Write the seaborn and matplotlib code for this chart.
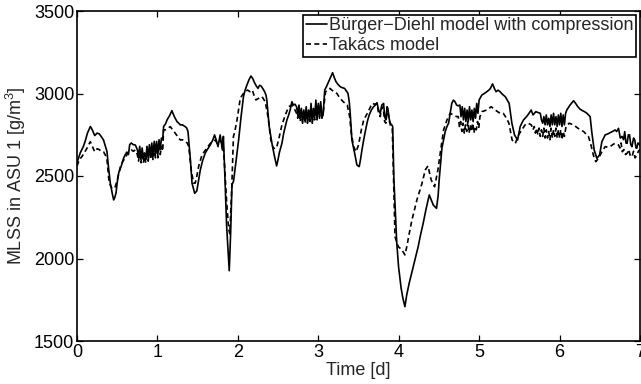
import matplotlib
matplotlib.use("Agg")
import matplotlib.pyplot as plt
import numpy as np
import pandas as pd
import seaborn as sns

# Simulated MLSS concentration in ASU 1, two settler models
bd_time = [
    0.00, 0.04, 0.08, 0.10, 0.13, 0.166, 0.19, 0.22, 0.25, 0.277, 0.30, 0.33, 0.36, 0.373, 0.39,
    0.414, 0.44, 0.456, 0.47, 0.485, 0.50, 0.518, 0.55, 0.58, 0.60, 0.62, 0.64, 0.655, 0.675, 0.70,
    0.725, 0.75, 0.765, 0.78, 0.795, 0.81, 0.825, 0.84, 0.855, 0.87, 0.885, 0.90, 0.915, 0.93, 0.945,
    0.96, 0.975, 0.99, 1.005, 1.02, 1.035, 1.05, 1.065, 1.077, 1.10, 1.12, 1.15, 1.18, 1.21, 1.243,
    1.265, 1.285, 1.31, 1.346, 1.365, 1.38, 1.395, 1.41, 1.43, 1.463, 1.49, 1.51, 1.533, 1.56, 1.595,
    1.62, 1.657, 1.69, 1.71, 1.73, 1.753, 1.78, 1.795, 1.81, 1.82, 1.84, 1.86, 1.893, 1.91, 1.927,
    1.947, 1.98, 2.01, 2.04, 2.07, 2.09, 2.113, 2.14, 2.163, 2.185, 2.208, 2.23, 2.25, 2.27, 2.29,
    2.31, 2.333, 2.35, 2.36, 2.375, 2.39, 2.424, 2.452, 2.482, 2.50, 2.515, 2.548, 2.57, 2.59, 2.61,
    2.632, 2.65, 2.672, 2.69, 2.71, 2.73, 2.745, 2.76, 2.775, 2.79, 2.805, 2.82, 2.835, 2.85, 2.865,
    2.88, 2.895, 2.91, 2.925, 2.94, 2.955, 2.97, 2.985, 3.00, 3.015, 3.03, 3.045, 3.06, 3.08, 3.10,
    3.12, 3.15, 3.178, 3.20, 3.22, 3.245, 3.273, 3.30, 3.327, 3.35, 3.369, 3.385, 3.397, 3.418, 3.452,
    3.48, 3.509, 3.525, 3.543, 3.565, 3.584, 3.61, 3.633, 3.66, 3.688, 3.71, 3.73, 3.75, 3.77, 3.79,
    3.812, 3.825, 3.84, 3.855, 3.865, 3.88, 3.895, 3.915, 3.925, 3.94, 3.957, 3.975, 3.998, 4.03, 4.052,
    4.077, 4.10, 4.13, 4.16, 4.20, 4.242, 4.27, 4.304, 4.34, 4.38, 4.40, 4.43, 4.47, 4.49, 4.503,
    4.537, 4.578, 4.60, 4.62, 4.64, 4.66, 4.68, 4.70, 4.72, 4.74, 4.76, 4.775, 4.79, 4.805, 4.82,
    4.835, 4.85, 4.865, 4.88, 4.895, 4.91, 4.925, 4.94, 4.955, 4.97, 4.985, 5.00, 5.034, 5.065, 5.096,
    5.12, 5.14, 5.167, 5.19, 5.21, 5.235, 5.26, 5.29, 5.324, 5.35, 5.373, 5.39, 5.407, 5.44, 5.478,
    5.495, 5.51, 5.53, 5.552, 5.57, 5.59, 5.62, 5.647, 5.67, 5.705, 5.73, 5.76, 5.775, 5.79, 5.805,
    5.82, 5.835, 5.85, 5.865, 5.88, 5.895, 5.91, 5.925, 5.94, 5.955, 5.97, 5.985, 6.00, 6.015, 6.03,
    6.045, 6.06, 6.075, 6.09, 6.13, 6.174, 6.20, 6.227, 6.255, 6.285, 6.31, 6.34, 6.36, 6.38, 6.40,
    6.43, 6.464, 6.497, 6.526, 6.567, 6.60, 6.63, 6.66, 6.69, 6.71, 6.733, 6.755, 6.777, 6.795, 6.81,
    6.825, 6.84, 6.855, 6.87, 6.885, 6.90, 6.92, 6.935, 6.95, 6.96, 6.975, 7.00,
]
bd_mlss = [
    2580, 2640, 2680, 2708, 2760, 2800, 2780, 2745, 2760, 2755, 2740, 2718, 2670, 2647, 2560,
    2457, 2390, 2355, 2370, 2397, 2460, 2518, 2560, 2609, 2630, 2645, 2630, 2690, 2700, 2690,
    2688, 2660, 2620, 2680, 2600, 2670, 2610, 2640, 2600, 2680, 2610, 2690, 2620, 2700, 2620,
    2710, 2640, 2710, 2630, 2720, 2660, 2730, 2720, 2800, 2815, 2840, 2865, 2896, 2860, 2830,
    2820, 2809, 2810, 2799, 2790, 2769, 2680, 2597, 2457, 2395, 2410, 2470, 2536, 2590, 2640,
    2660, 2688, 2720, 2749, 2720, 2678, 2749, 2700, 2658, 2740, 2480, 2200, 1926, 2150, 2446,
    2470, 2600, 2720, 2860, 2981, 3020, 3052, 3085, 3106, 3090, 3065, 3045, 3031, 3050, 3045,
    3030, 3011, 2990, 2961, 2880, 2799, 2698, 2627, 2561, 2600, 2640, 2698, 2760, 2799, 2840,
    2870, 2900, 2950, 2930, 2935, 2920, 2870, 2930, 2850, 2910, 2830, 2900, 2840, 2920, 2830,
    2900, 2840, 2940, 2830, 2910, 2850, 2960, 2850, 2940, 2860, 2950, 2860, 2870, 3021, 3040,
    3062, 3095, 3126, 3095, 3072, 3055, 3041, 3035, 3031, 3015, 3001, 2950, 2880, 2718, 2638,
    2567, 2557, 2600, 2658, 2720, 2769, 2830, 2870, 2900, 2920, 2930, 2944, 2900, 2880, 2930,
    2940, 2860, 2840, 2920, 2910, 2850, 2820, 2809, 2800, 2480, 2294, 2100, 1950, 1820, 1759,
    1708, 1780, 1850, 1910, 1990, 2072, 2140, 2213, 2300, 2385, 2360, 2324, 2304, 2380, 2476,
    2668, 2769, 2800, 2820, 2880, 2940, 2960, 2950, 2930, 2925, 2930, 2860, 2920, 2840, 2910,
    2830, 2900, 2830, 2920, 2840, 2900, 2830, 2910, 2850, 2940, 2880, 2961, 2991, 3000, 3011,
    3020, 3031, 3058, 3030, 3011, 3020, 3011, 2995, 2981, 2960, 2940, 2880, 2820, 2749, 2718,
    2760, 2799, 2820, 2840, 2850, 2860, 2880, 2900, 2870, 2890, 2885, 2880, 2840, 2820, 2860,
    2810, 2870, 2810, 2850, 2800, 2870, 2810, 2880, 2810, 2860, 2800, 2870, 2810, 2880, 2800,
    2870, 2810, 2880, 2900, 2930, 2956, 2940, 2920, 2905, 2896, 2890, 2880, 2870, 2860, 2769,
    2658, 2607, 2627, 2708, 2749, 2755, 2763, 2770, 2779, 2770, 2789, 2730, 2740, 2720, 2769,
    2700, 2698, 2750, 2749, 2690, 2678, 2730, 2718, 2670, 2668, 2700, 2688,
]

tk_time = [
    0.00, 0.03, 0.062, 0.09, 0.124, 0.145, 0.166, 0.19, 0.22, 0.25, 0.277, 0.30, 0.33, 0.36, 0.373,
    0.40, 0.435, 0.47, 0.50, 0.54, 0.57, 0.60, 0.63, 0.675, 0.70, 0.725, 0.75, 0.765, 0.78, 0.795,
    0.81, 0.825, 0.84, 0.855, 0.87, 0.885, 0.90, 0.915, 0.93, 0.945, 0.96, 0.975, 0.99, 1.005, 1.02,
    1.035, 1.05, 1.065, 1.077, 1.10, 1.13, 1.16, 1.19, 1.222, 1.25, 1.285, 1.31, 1.346, 1.37, 1.39,
    1.42, 1.45, 1.47, 1.49, 1.512, 1.553, 1.585, 1.615, 1.645, 1.677, 1.72, 1.74, 1.76, 1.78, 1.80,
    1.815, 1.83, 1.86, 1.885, 1.90, 1.925, 1.945, 1.96, 1.99, 2.03, 2.07, 2.12, 2.15, 2.18, 2.20,
    2.225, 2.26, 2.30, 2.34, 2.36, 2.38, 2.41, 2.44, 2.48, 2.515, 2.548, 2.59, 2.632, 2.67, 2.70,
    2.73, 2.745, 2.76, 2.775, 2.79, 2.805, 2.82, 2.835, 2.85, 2.865, 2.88, 2.895, 2.91, 2.925, 2.94,
    2.955, 2.97, 2.985, 3.00, 3.015, 3.03, 3.045, 3.06, 3.09, 3.12, 3.145, 3.17, 3.20, 3.23, 3.27,
    3.31, 3.36, 3.39, 3.41, 3.44, 3.47, 3.50, 3.535, 3.565, 3.61, 3.64, 3.67, 3.70, 3.73, 3.75,
    3.77, 3.79, 3.81, 3.825, 3.84, 3.855, 3.87, 3.885, 3.90, 3.92, 3.94, 3.954, 3.975, 3.995, 4.04,
    4.077, 4.10, 4.123, 4.164, 4.226, 4.29, 4.33, 4.363, 4.404, 4.446, 4.487, 4.516, 4.558, 4.60, 4.64,
    4.68, 4.72, 4.74, 4.755, 4.77, 4.785, 4.80, 4.815, 4.83, 4.845, 4.86, 4.875, 4.89, 4.905, 4.92,
    4.935, 4.95, 4.965, 4.98, 4.995, 5.01, 5.034, 5.065, 5.096, 5.125, 5.15, 5.175, 5.20, 5.23, 5.26,
    5.30, 5.34, 5.37, 5.39, 5.41, 5.45, 5.49, 5.53, 5.57, 5.61, 5.65, 5.67, 5.685, 5.70, 5.715,
    5.73, 5.745, 5.76, 5.775, 5.79, 5.805, 5.82, 5.835, 5.85, 5.865, 5.88, 5.895, 5.91, 5.925, 5.94,
    5.955, 5.97, 5.985, 6.00, 6.015, 6.03, 6.045, 6.06, 6.08, 6.12, 6.174, 6.23, 6.30, 6.36, 6.39,
    6.42, 6.45, 6.485, 6.526, 6.567, 6.60, 6.63, 6.66, 6.69, 6.733, 6.75, 6.765, 6.78, 6.80, 6.82,
    6.84, 6.86, 6.88, 6.90, 6.92, 6.94, 6.96, 6.98, 7.00,
]
tk_mlss = [
    2560, 2600, 2618, 2640, 2668, 2690, 2708, 2680, 2647, 2665, 2660, 2650, 2647, 2620, 2597,
    2457, 2426, 2426, 2476, 2557, 2590, 2607, 2640, 2658, 2650, 2658, 2630, 2590, 2640, 2580,
    2650, 2580, 2620, 2580, 2650, 2590, 2660, 2600, 2670, 2600, 2680, 2610, 2680, 2610, 2690,
    2630, 2680, 2650, 2779, 2780, 2790, 2799, 2780, 2759, 2740, 2718, 2720, 2708, 2700, 2678,
    2536, 2457, 2457, 2500, 2557, 2627, 2650, 2668, 2690, 2708, 2718, 2700, 2698, 2720, 2678,
    2700, 2600, 2350, 2180, 2150, 2440, 2740, 2765, 2840, 2971, 3001, 3021, 3011, 3021, 2990,
    2961, 2971, 2981, 2950, 2900, 2840, 2718, 2668, 2668, 2738, 2809, 2870, 2920, 2930, 2910,
    2880, 2850, 2910, 2830, 2890, 2820, 2880, 2820, 2900, 2820, 2880, 2830, 2920, 2820, 2890,
    2840, 2930, 2840, 2920, 2850, 2930, 2850, 2880, 3011, 3020, 3031, 3020, 3010, 3001, 2971,
    2950, 2930, 2860, 2759, 2678, 2647, 2688, 2779, 2840, 2880, 2910, 2940, 2935, 2940, 2880,
    2860, 2920, 2900, 2830, 2820, 2890, 2880, 2830, 2800, 2790, 2400, 2132, 2100, 2072, 2052,
    2022, 2070, 2132, 2233, 2355, 2456, 2536, 2561, 2476, 2435, 2536, 2638, 2779, 2840, 2880,
    2870, 2860, 2860, 2800, 2830, 2770, 2820, 2760, 2810, 2770, 2830, 2760, 2810, 2770, 2820,
    2760, 2800, 2780, 2830, 2790, 2860, 2890, 2895, 2900, 2910, 2920, 2910, 2900, 2890, 2880,
    2880, 2850, 2820, 2769, 2718, 2698, 2749, 2779, 2809, 2820, 2809, 2780, 2800, 2760, 2790,
    2750, 2790, 2740, 2780, 2740, 2790, 2730, 2780, 2730, 2770, 2720, 2790, 2730, 2780, 2740,
    2790, 2730, 2780, 2730, 2780, 2720, 2770, 2740, 2800, 2820, 2809, 2789, 2769, 2738, 2688,
    2627, 2587, 2607, 2647, 2678, 2675, 2678, 2690, 2698, 2688, 2670, 2700, 2647, 2660, 2630,
    2638, 2660, 2620, 2617, 2650, 2610, 2627, 2650, 2660,
]

label_bd = "Bürger\u2212Diehl model with compression"
label_tk = "Takács model"

df = pd.concat([
    pd.DataFrame({"time": bd_time, "mlss": bd_mlss, "model": label_bd}),
    pd.DataFrame({"time": tk_time, "mlss": tk_mlss, "model": label_tk}),
], ignore_index=True)

sns.set_style("ticks")
plt.rcParams["font.family"] = ["Liberation Sans", "DejaVu Sans"]
plt.rcParams["mathtext.fontset"] = "custom"
plt.rcParams["mathtext.rm"] = "Liberation Sans"
plt.rcParams["mathtext.it"] = "Liberation Sans:italic"

fig = plt.figure(figsize=(6.41, 3.84), dpi=100)
ax = fig.add_axes([77 / 641, 1 - 341 / 384, 563 / 641, 330 / 384])

sns.lineplot(
    data=df, x="time", y="mlss", hue="model", style="model",
    palette={label_bd: "black", label_tk: "black"},
    dashes={label_bd: "", label_tk: (3, 2)},
    estimator=None, sort=False, linewidth=1.2, ax=ax,
)

ax.set_xlim(0, 7)
ax.set_ylim(1500, 3500)
ax.set_xticks(range(0, 8))
ax.set_yticks([1500, 2000, 2500, 3000, 3500])
ax.tick_params(direction="in", length=4, width=0.9, top=True, right=True,
               labelsize=13, pad=2, colors="black")
for s in ax.spines.values():
    s.set_visible(True)
    s.set_linewidth(1.2)
    s.set_color("black")

ax.set_xlabel("Time [d]", fontsize=13, labelpad=1)
ax.set_ylabel("MLSS in ASU 1 [g/m$^3$]", fontsize=13, labelpad=4)

leg = ax.legend(loc="upper right", fontsize=13, frameon=True, fancybox=False,
                edgecolor="black", framealpha=1, borderaxespad=0.2, borderpad=0.15,
                handlelength=1.2, handletextpad=0.1, labelspacing=0.15)
leg.get_frame().set_linewidth(1.2)

fig.savefig("out.png", dpi=100)
